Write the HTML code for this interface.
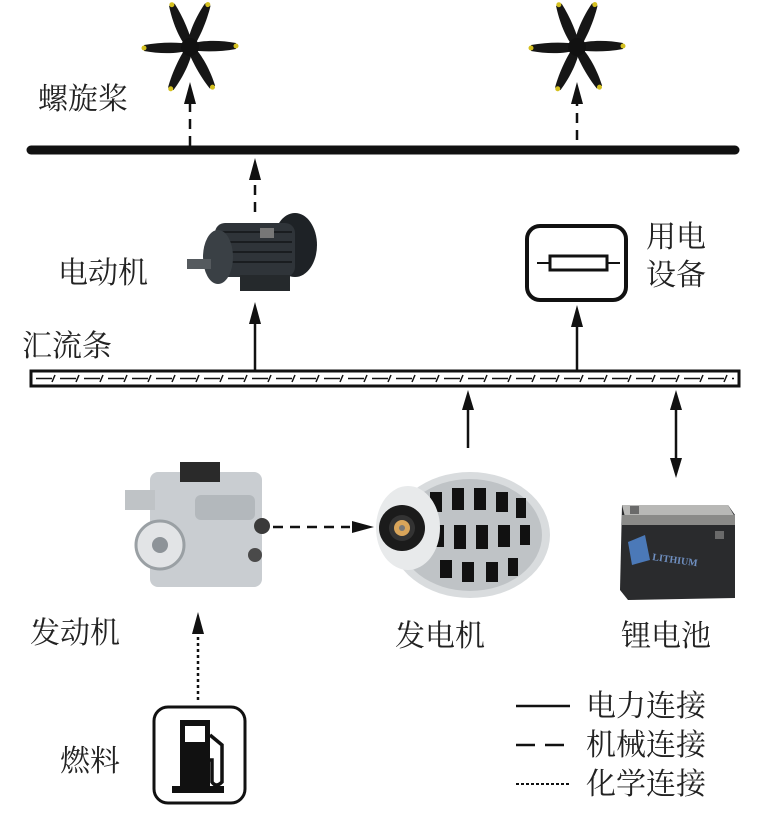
<!DOCTYPE html>
<html><head><meta charset="utf-8"><style>
html,body{margin:0;padding:0;background:#fff}
svg{display:block}
text{font-family:"Liberation Serif","Noto Serif CJK SC","Noto Sans CJK SC",serif;fill:#222}
</style></head><body>
<svg width="760" height="825" viewBox="0 0 760 825" xmlns="http://www.w3.org/2000/svg">
<defs>
<g id="blade">
  <path d="M0,-3 C12,-7 30,-7 46,-4 L46,2 C30,5 12,5 0,3Z" fill="#161616"/>
  <circle cx="46" cy="-1" r="2.5" fill="#d4c020"/>
</g>
<g id="prop">
  <use href="#blade" transform="rotate(0)"/>
  <use href="#blade" transform="rotate(180)"/>
  <use href="#blade" transform="rotate(-112)"/>
  <use href="#blade" transform="rotate(-66)"/>
  <use href="#blade" transform="rotate(62)"/>
  <use href="#blade" transform="rotate(116)"/>
  <circle r="9" fill="#111"/>
</g>
<pattern id="hatch" x="36" y="374" width="24" height="9" patternUnits="userSpaceOnUse">
  <line x1="0" y1="4.5" x2="16" y2="4.5" stroke="#111" stroke-width="1.5"/>
  <line x1="16" y1="8" x2="19" y2="1" stroke="#111" stroke-width="1.5"/>
</pattern>
</defs>

<use href="#prop" x="190" y="47"/>
<use href="#prop" x="577" y="47"/>
<text x="38" y="109" font-size="30">螺旋桨</text>

<g stroke="#111" stroke-width="2.5" stroke-dasharray="10,7">
  <line x1="190" y1="146" x2="190" y2="102"/>
  <line x1="577" y1="140" x2="577" y2="102"/>
  <line x1="255" y1="212" x2="255" y2="178"/>
</g>
<g fill="#111">
  <polygon points="190,82 184,104 196,104"/>
  <polygon points="577,82 571,104 583,104"/>
  <polygon points="255,158 249,180 261,180"/>
</g>

<line x1="31" y1="150" x2="735" y2="150" stroke="#111" stroke-width="9" stroke-linecap="round"/>

<g>
  <ellipse cx="295" cy="245" rx="22" ry="32" fill="#1e2226"/>
  <rect x="215" y="223" width="80" height="54" rx="10" fill="#2f3439"/>
  <g stroke="#1a1d20" stroke-width="2">
    <line x1="222" y1="232" x2="292" y2="232"/><line x1="222" y1="242" x2="292" y2="242"/>
    <line x1="222" y1="252" x2="292" y2="252"/><line x1="222" y1="262" x2="292" y2="262"/>
  </g>
  <ellipse cx="218" cy="257" rx="15" ry="27" fill="#3a4045"/>
  <rect x="187" y="259" width="24" height="10" fill="#555a5e"/>
  <rect x="240" y="275" width="50" height="16" fill="#25292c"/>
  <rect x="260" y="228" width="14" height="10" fill="#777"/>
</g>
<text x="58" y="283" font-size="30">电动机</text>

<rect x="527" y="226" width="99" height="74" rx="13" fill="#fff" stroke="#111" stroke-width="4"/>
<rect x="550" y="256" width="57" height="14" fill="#fff" stroke="#111" stroke-width="3"/>
<line x1="537" y1="263" x2="550" y2="263" stroke="#111" stroke-width="2"/>
<line x1="607" y1="263" x2="620" y2="263" stroke="#111" stroke-width="2"/>
<text x="646" y="247" font-size="30">用电</text>
<text x="646" y="285" font-size="30">设备</text>

<g stroke="#111" stroke-width="2.5">
  <line x1="255" y1="370" x2="255" y2="320"/>
  <line x1="577" y1="370" x2="577" y2="325"/>
  <line x1="468" y1="448" x2="468" y2="408"/>
  <line x1="676" y1="406" x2="676" y2="462"/>
</g>
<g fill="#111">
  <polygon points="255,302 249,324 261,324"/>
  <polygon points="577,305 571,327 583,327"/>
  <polygon points="468,390 462,410 474,410"/>
  <polygon points="676,390 670,410 682,410"/>
  <polygon points="676,478 670,458 682,458"/>
</g>

<text x="22" y="356" font-size="30">汇流条</text>

<rect x="31" y="371" width="708" height="15" fill="#fff" stroke="#111" stroke-width="3"/>
<rect x="36" y="374" width="698" height="9" fill="url(#hatch)"/>

<g>
  <rect x="150" y="472" width="112" height="115" rx="8" fill="#c9cdd1"/>
  <rect x="180" y="462" width="40" height="20" fill="#2a2a2a"/>
  <circle cx="160" cy="545" r="24" fill="#e2e4e6" stroke="#9aa0a4" stroke-width="3"/>
  <circle cx="160" cy="545" r="8" fill="#8d9398"/>
  <rect x="195" y="495" width="60" height="25" rx="6" fill="#b3b8bc"/>
  <rect x="125" y="490" width="30" height="20" fill="#bfc3c6"/>
  <circle cx="262" cy="526" r="8" fill="#3a3a3a"/>
  <circle cx="255" cy="555" r="7" fill="#4a4a4a"/>
</g>

<line x1="273" y1="527" x2="350" y2="527" stroke="#111" stroke-width="2.5" stroke-dasharray="10,7"/>
<polygon points="374,527 352,521 352,533" fill="#111"/>

<g>
  <ellipse cx="470" cy="535" rx="80" ry="63" fill="#d9dcde"/>
  <ellipse cx="470" cy="535" rx="72" ry="56" fill="#bfc3c6"/>
  <g fill="#111">
    <rect x="430" y="492" width="12" height="20"/><rect x="452" y="488" width="12" height="22"/>
    <rect x="474" y="488" width="12" height="22"/><rect x="496" y="492" width="12" height="20"/>
    <rect x="516" y="498" width="10" height="20"/>
    <rect x="432" y="525" width="12" height="22"/><rect x="454" y="525" width="12" height="24"/>
    <rect x="476" y="525" width="12" height="24"/><rect x="498" y="525" width="12" height="22"/>
    <rect x="520" y="525" width="10" height="20"/>
    <rect x="440" y="560" width="12" height="18"/><rect x="462" y="562" width="12" height="20"/>
    <rect x="486" y="562" width="12" height="20"/><rect x="508" y="558" width="10" height="18"/>
  </g>
  <ellipse cx="408" cy="528" rx="32" ry="42" fill="#e8eaeb"/>
  <circle cx="402" cy="528" r="23" fill="#1b1b1b"/>
  <circle cx="402" cy="528" r="13" fill="#333"/>
  <circle cx="402" cy="528" r="8" fill="#d9a55a"/>
  <circle cx="402" cy="528" r="3" fill="#777"/>
</g>

<g>
  <polygon points="622,505 728,505 735,515 735,598 628,600 620,590" fill="#2a2b2d"/>
  <polygon points="622,505 728,505 735,517 625,517" fill="#b8b8b6"/>
  <rect x="622" y="515" width="113" height="10" fill="#8a8a88"/>
  <rect x="630" y="506" width="9" height="8" fill="#6a6a6a"/>
  <rect x="715" y="531" width="9" height="8" fill="#6a6a6a"/>
  <polygon points="628,542 645,535 650,560 632,565" fill="#4b79b8"/>
  <text x="652" y="560" font-size="10" font-family="Liberation Sans,sans-serif" font-weight="bold" style="fill:#6f8fc0" transform="rotate(8 652 560)">LITHIUM</text>
</g>

<text x="30" y="643" font-size="30">发动机</text>
<text x="395" y="646" font-size="30">发电机</text>
<text x="621" y="646" font-size="30">锂电池</text>

<line x1="198" y1="700" x2="198" y2="632" stroke="#111" stroke-width="2.5" stroke-dasharray="3,3"/>
<polygon points="198,612 192,634 204,634" fill="#111"/>

<rect x="154" y="707" width="91" height="96" rx="14" fill="#fff" stroke="#111" stroke-width="3"/>
<rect x="180" y="720" width="30" height="68" fill="#111"/>
<rect x="185" y="726" width="20" height="16" fill="#fff"/>
<rect x="172" y="786" width="52" height="7" fill="#111"/>
<path d="M210,735 L222,745 L222,782 Q216,788 212,782 L212,760 L210,760" fill="none" stroke="#111" stroke-width="3.5"/>
<text x="60" y="771" font-size="30">燃料</text>

<line x1="516" y1="706" x2="570" y2="706" stroke="#111" stroke-width="2.5"/>
<line x1="516" y1="745" x2="570" y2="745" stroke="#111" stroke-width="2.5" stroke-dasharray="19,10"/>
<line x1="516" y1="784" x2="570" y2="784" stroke="#111" stroke-width="2" stroke-dasharray="3,2"/>
<text x="586" y="716" font-size="30">电力连接</text>
<text x="586" y="755" font-size="30">机械连接</text>
<text x="586" y="794" font-size="30">化学连接</text>
</svg>
</body></html>
